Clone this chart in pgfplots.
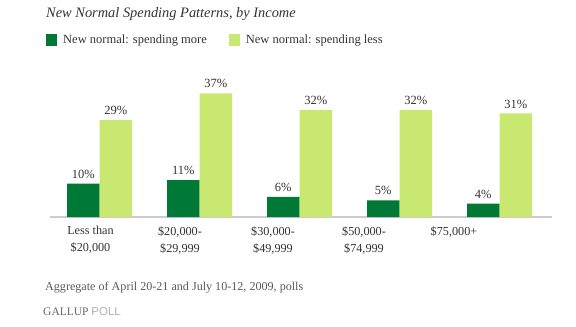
\documentclass[border=0pt]{standalone}
\usepackage{pgfplots}
\pgfplotsset{compat=1.18}
\usepackage{fontspec}
\setmainfont{Liberation Serif}
\setsansfont{Liberation Sans}
\definecolor{darkg}{HTML}{007836}
\definecolor{lightg}{HTML}{C8E872}
\definecolor{txt}{HTML}{333333}
\definecolor{axisg}{HTML}{CCCCCC}
\begin{document}
\begin{tikzpicture}[x=1bp,y=1bp]
\useasboundingbox (0,0) rectangle (576,326);
\begin{axis}[
  at={(50bp,109bp)}, anchor=south west,
  scale only axis, width=502bp, height=133.7bp,
  xmin=-0.495, xmax=4.525, ymin=0, ymax=40,
  ybar=0pt, bar width=32.5bp,
  axis line style={draw=none},
  hide y axis,
  xtick={-0.09,0.805,1.735,2.645,3.545},
  xticklabels={{Less than\\\$20,000},{\$20,000-\\\$29,999},{\$30,000-\\\$49,999},{\$50,000-\\\$74,999},{\$75,000+}},
  xticklabel style={align=center, font=\fontsize{12.2bp}{17bp}\selectfont, text=txt, inner sep=0pt, yshift=-9bp},
  major tick length=0pt,
  /pgf/number format/assume math mode=true,
  nodes near coords={\pgfmathprintnumber{\pgfplotspointmeta}\%},
  every node near coord/.append style={font=\fontsize{12.5bp}{14bp}\selectfont, text=txt, inner sep=0pt, yshift=5bp},
  legend columns=2,
  legend style={at={(axis description cs:-0.008,1.37)}, anchor=north west, draw=none, fill=none, inner sep=0pt,
    nodes={inner sep=0pt},
    font=\fontsize{12.5bp}{14bp}\selectfont, text=txt,
    /tikz/every odd column/.append style={column sep=6bp},
    /tikz/every even column/.append style={column sep=22bp}},
  legend image code/.code={\fill[#1] (0bp,-6bp) rectangle (11bp,6bp);},
  clip=false,
]
\draw[axisg, line width=2.5bp] (rel axis cs:0,0) -- (rel axis cs:1,0);
\addplot[fill=darkg, draw=none] coordinates {(0,10) (1,11) (2,6) (3,5) (4,4)};
\addplot[fill=lightg, draw=none] coordinates {(0,29) (1,37) (2,32) (3,32) (4,31)};
\legend{New normal: spending more, New normal: spending less}
\end{axis}
\node[anchor=base west, inner sep=0pt, font=\fontsize{14.4bp}{17bp}\selectfont\itshape, text=txt] at (46,309) {New Normal Spending Patterns, by Income};
\node[anchor=base west, inner sep=0pt, font=\fontsize{12.1bp}{14bp}\selectfont, text=black!65] at (45,36) {Aggregate of April 20-21 and July 10-12, 2009, polls};
\node[anchor=base west, inner sep=0pt, font=\fontsize{11.5bp}{12bp}\selectfont, text=black!60] at (43,11) {GALLUP \textcolor{black!30}{\sffamily\fontsize{11.5bp}{12bp}\selectfont POLL}};
\end{tikzpicture}
\end{document}
